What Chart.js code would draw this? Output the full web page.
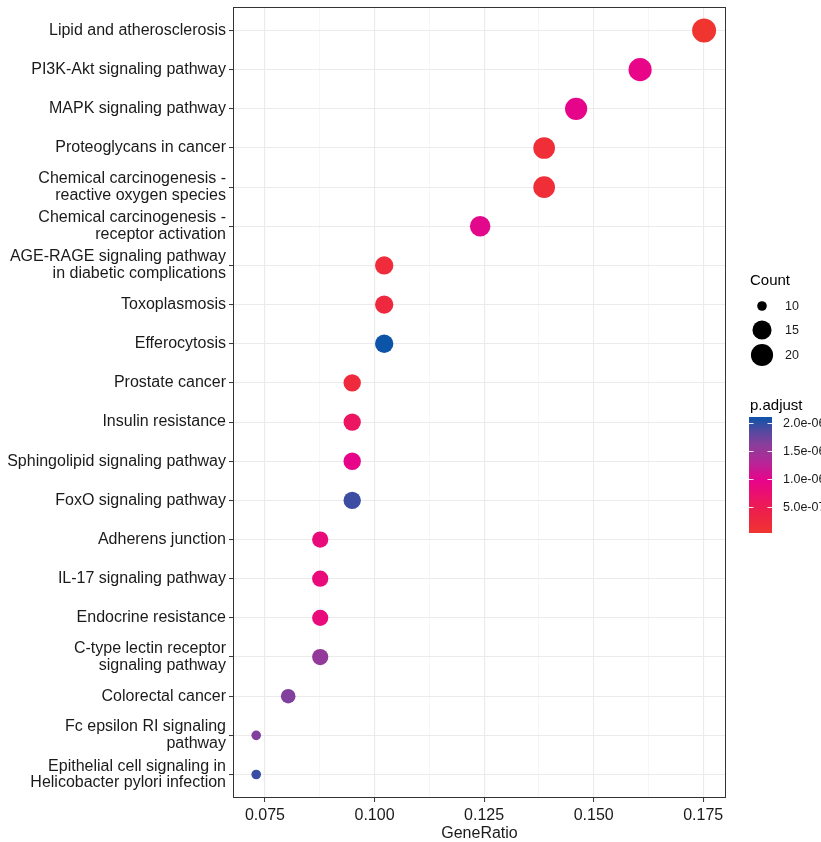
<!DOCTYPE html>
<html>
<head>
<meta charset="utf-8">
<script src="https://cdn.jsdelivr.net/npm/chart.js@4/dist/chart.umd.min.js"></script>
<style>
  html, body { margin: 0; padding: 0; background: #ffffff; }
  #wrap { width: 821px; height: 842px; }
</style>
</head>
<body>
<div id="wrap"><canvas id="dot" width="821" height="842"></canvas></div>
<script>
// KEGG enrichment dot plot: gene ratio on x, pathway on y,
// dot size = gene count, dot colour = adjusted p-value.
const categories = [
  "Lipid and atherosclerosis",
  "PI3K-Akt signaling pathway",
  "MAPK signaling pathway",
  "Proteoglycans in cancer",
  "Chemical carcinogenesis -\nreactive oxygen species",
  "Chemical carcinogenesis -\nreceptor activation",
  "AGE-RAGE signaling pathway\nin diabetic complications",
  "Toxoplasmosis",
  "Efferocytosis",
  "Prostate cancer",
  "Insulin resistance",
  "Sphingolipid signaling pathway",
  "FoxO signaling pathway",
  "Adherens junction",
  "IL-17 signaling pathway",
  "Endocrine resistance",
  "C-type lectin receptor\nsignaling pathway",
  "Colorectal cancer",
  "Fc epsilon RI signaling\npathway",
  "Epithelial cell signaling in\nHelicobacter pylori infection"
];

const geneRatio = [0.1752, 0.1606, 0.1460, 0.1387, 0.1387, 0.1241, 0.1022, 0.1022, 0.1022, 0.0949,
                   0.0949, 0.0949, 0.0949, 0.0876, 0.0876, 0.0876, 0.0876, 0.0803, 0.0730, 0.0730];

const counts = [24, 22, 20, 19, 19, 17, 14, 14, 14, 13,
                13, 13, 13, 12, 12, 12, 12, 11, 10, 10];

const pAdjust = [3.6e-8, 9.5e-7, 9.8e-7, 1.5e-7, 1.5e-7, 1.0e-6, 2.0e-7, 2.5e-7, 2.107e-6, 2.2e-7,
                 6.2e-7, 9.6e-7, 1.94e-6, 8.2e-7, 8.2e-7, 8.5e-7, 1.55e-6, 1.65e-6, 1.65e-6, 1.95e-6];

const xTicks = [0.075, 0.100, 0.125, 0.150, 0.175];
const xMinorTicks = [0.0875, 0.1125, 0.1375, 0.1625];

const countLegend = [10, 15, 20];
const pLegendTicks = [2.0e-6, 1.5e-6, 1.0e-6, 5.0e-7];
const pLegendLabels = ["2.0e-06", "1.5e-06", "1.0e-06", "5.0e-07"];

const FONT = '"Liberation Sans", Arial, Helvetica, sans-serif';
const TEXT = '#1A1A1A';

// size scale: gene count -> point radius (px)
const countMin = Math.min(...counts), countMax = Math.max(...counts);
function radiusOf(c) {
  const f = Math.max(0, (c - countMin) / (countMax - countMin));
  return 4.8 + 7.2 * Math.pow(f, 0.4);
}

// colour scale: p.adjust -> red / magenta / purple / blue
const pMin = Math.min(...pAdjust), pMax = Math.max(...pAdjust);
const gradStops = [
  [0.00, [240, 52, 48]],
  [0.20, [237, 30, 78]],
  [0.45, [232, 4, 138]],
  [0.62, [178, 40, 152]],
  [0.76, [138, 62, 155]],
  [0.89, [78, 74, 160]],
  [1.00, [12, 84, 168]]
];
function colorOf(v) {
  let f = (v - pMin) / (pMax - pMin);
  f = Math.min(1, Math.max(0, f));
  for (let i = 1; i < gradStops.length; i++) {
    const [p1, c1] = gradStops[i];
    const [p0, c0] = gradStops[i - 1];
    if (f <= p1) {
      const t = (f - p0) / (p1 - p0);
      const c = c0.map((a, k) => Math.round(a + (c1[k] - a) * t));
      return `rgb(${c[0]},${c[1]},${c[2]})`;
    }
  }
  const c = gradStops[gradStops.length - 1][1];
  return `rgb(${c[0]},${c[1]},${c[2]})`;
}

const points = categories.map((c, i) => ({ x: geneRatio[i], y: i + 1 }));

// panel border, x title and the two legends
const decorations = {
  id: 'decorations',
  afterDraw(chart) {
    const { ctx, chartArea: a } = chart;
    ctx.save();
    ctx.strokeStyle = '#333333';
    ctx.lineWidth = 1;
    ctx.strokeRect(Math.round(a.left) + 0.5, Math.round(a.top) + 0.5,
                   Math.round(a.right - a.left) - 1, Math.round(a.bottom - a.top) - 1);

    ctx.fillStyle = TEXT;
    ctx.font = `16px ${FONT}`;
    ctx.textAlign = 'center';
    ctx.textBaseline = 'middle';
    ctx.fillText('GeneRatio', (a.left + a.right) / 2, 834);

    // size legend
    ctx.textAlign = 'left';
    ctx.fillStyle = '#000000';
    ctx.font = `15px ${FONT}`;
    ctx.fillText('Count', 750, 281);
    const ly = [306, 330, 355];
    ctx.font = `12.5px ${FONT}`;
    countLegend.forEach((c, i) => {
      ctx.beginPath();
      ctx.fillStyle = '#000000';
      ctx.arc(762, ly[i], radiusOf(c), 0, Math.PI * 2);
      ctx.fill();
      ctx.fillStyle = TEXT;
      ctx.fillText(String(c), 785, ly[i] + 1);
    });

    // colour bar legend
    ctx.fillStyle = '#000000';
    ctx.font = `15px ${FONT}`;
    ctx.fillText('p.adjust', 750, 406);
    const bx = 749, bw = 23, bt = 417, bb = 533;
    for (let y = bt; y < bb; y++) {
      const v = pMin + (bb - (y + 0.5)) / (bb - bt) * (pMax - pMin);
      ctx.fillStyle = colorOf(v);
      ctx.fillRect(bx, y, bw, 1);
    }
    ctx.font = `12.5px ${FONT}`;
    pLegendTicks.forEach((v, i) => {
      const y = bb - (v - pMin) / (pMax - pMin) * (bb - bt);
      ctx.strokeStyle = 'rgba(255,255,255,0.9)';
      ctx.beginPath();
      ctx.moveTo(bx, Math.round(y) + 0.5); ctx.lineTo(bx + 4.5, Math.round(y) + 0.5);
      ctx.moveTo(bx + bw - 4.5, Math.round(y) + 0.5); ctx.lineTo(bx + bw, Math.round(y) + 0.5);
      ctx.stroke();
      ctx.fillStyle = TEXT;
      ctx.fillText(pLegendLabels[i], 783, y + 1);
    });
    ctx.restore();
  }
};

new Chart(document.getElementById('dot'), {
  type: 'scatter',
  data: {
    datasets: [{
      data: points,
      pointRadius: ctx => radiusOf(counts[ctx.dataIndex]),
      pointHoverRadius: ctx => radiusOf(counts[ctx.dataIndex]),
      pointBackgroundColor: ctx => colorOf(pAdjust[ctx.dataIndex]),
      pointBorderWidth: 0,
      pointBorderColor: 'rgba(0,0,0,0)'
    }]
  },
  options: {
    responsive: false,
    animation: false,
    events: [],
    layout: { autoPadding: false, padding: { left: 0, right: 95, top: 7, bottom: 0 } },
    plugins: { legend: { display: false }, tooltip: { enabled: false } },
    scales: {
      x: {
        type: 'linear',
        min: 0.0677,
        max: 0.1802,
        afterBuildTicks: s => {
          s.ticks = xTicks.map(v => ({ value: v, major: true }))
            .concat(xMinorTicks.map(v => ({ value: v, major: false })))
            .sort((p, q) => p.value - q.value);
        },
        afterFit: s => {
          s.height = 44;
          s.paddingLeft = 0; s.paddingRight = 0;
        },
        border: { display: false },
        grid: {
          color: c => (c.tick && c.tick.major) ? '#EBEBEB' : '#F2F2F2',
          lineWidth: c => (c.tick && c.tick.major) ? 1.1 : 0.7,
          tickColor: c => (c.tick && c.tick.major) ? '#333333' : 'rgba(0,0,0,0)',
          tickLength: 4,
          tickWidth: 1
        },
        ticks: {
          autoSkip: false,
          maxRotation: 0,
          padding: 4,
          color: TEXT,
          font: { family: FONT, size: 16 },
          callback: (v, i, ticks) => ticks[i].major ? Number(v).toFixed(3) : ''
        }
      },
      y: {
        type: 'linear',
        reverse: true,
        min: 0.4,
        max: categories.length + 0.6,
        afterBuildTicks: s => {
          s.ticks = categories.map((c, i) => ({ value: i + 1 }));
        },
        afterFit: s => {
          s.width = 233;
          s.paddingTop = 0; s.paddingBottom = 0;
        },
        border: { display: false },
        grid: {
          color: '#EBEBEB',
          lineWidth: 1.1,
          tickColor: '#333333',
          tickLength: 4,
          tickWidth: 1
        },
        ticks: {
          autoSkip: false,
          padding: 3,
          color: TEXT,
          font: { family: FONT, size: 16, lineHeight: 1.05 },
          callback: v => {
            const label = categories[Math.round(v) - 1];
            return label ? label.split('\n') : '';
          }
        }
      }
    }
  },
  plugins: [decorations]
});
</script>
</body>
</html>
